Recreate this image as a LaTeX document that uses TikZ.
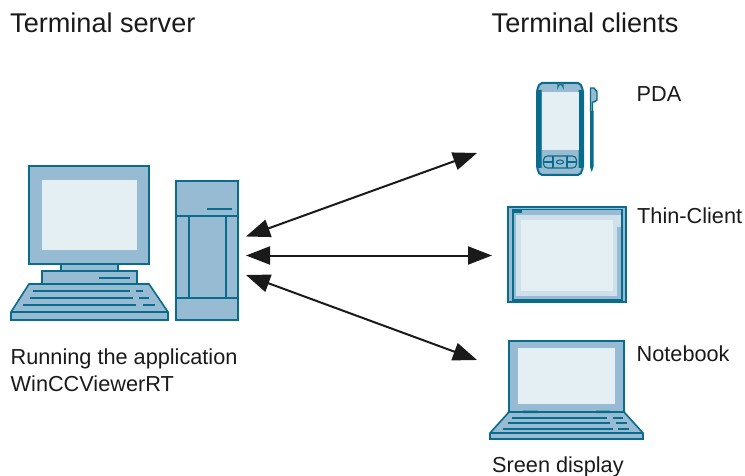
\documentclass[tikz,border=0pt]{standalone}
\usepackage{fontspec}
\setmainfont{Liberation Sans}
\usetikzlibrary{arrows.meta}
\definecolor{dk}{HTML}{0A6C8C}
\definecolor{md}{HTML}{96BBD2}
\definecolor{lt}{HTML}{E4EFF4}
\definecolor{pl}{HTML}{CFE0EA}
\definecolor{tx}{HTML}{1A1A1A}
\tikzset{
  x=1pt,y=-1pt,
  part/.style={draw=dk,fill=md,line width=1.6pt,line join=miter},
  scr/.style={fill=lt},
  thin/.style={draw=dk,line width=1.1pt},
  lab/.style={anchor=base west,inner sep=0pt,text=tx,font=\fontsize{21.7}{26}\selectfont},
  head/.style={anchor=base west,inner sep=0pt,text=tx,font=\fontsize{27.1}{32}\selectfont},
  link/.style={draw=tx,line width=2pt,{Triangle[length=24pt,width=18pt]}-{Triangle[length=24pt,width=18pt]}}
}
\begin{document}
\begin{tikzpicture}
\useasboundingbox (0,0) rectangle (745,476);
% desktop
\draw[part] (29,166) rectangle (149,264);
\fill[scr] (42,180) rectangle (137,250);
\draw[part] (61,264) rectangle (118,271);
\draw[part] (42,271) rectangle (137,284);
\draw[thin] (99,278) -- (130,278);
\draw[part] (29,284) -- (149,284) -- (168,312) -- (168,320) -- (11,320) -- (11,312) -- cycle;
\draw[thin] (11,312) -- (168,312);
\draw[thin] (33,291) -- (130,291) (136,291) -- (143,291);
\draw[thin] (30,298) -- (133,298) (139,298) -- (149,298);
\draw[thin] (23,305) -- (136,305) (143,305) -- (155,305);
% tower
\draw[part] (176,181) rectangle (238,320);
\draw[part] (176,216) -- (238,216) (176,298) -- (238,298) (189,216) -- (189,298) (226,216) -- (226,298);
\draw[dk,line width=1.6pt] (207,209) -- (232,209);
% PDA
\draw[part,line width=2pt,rounded corners=2pt] (540,83) -- (580,83) -- (583,90) -- (583,168) -- (580,175) -- (540,175) -- (537,168) -- (537,90) -- cycle;
\fill[dk] (537.5,90) rectangle (541.5,168) (578.5,90) rectangle (582.5,168);
\fill[scr] (542,92) rectangle (579,150);
\draw[thin,fill=lt] (558,84) -- (558,87) arc[start angle=180,end angle=0,x radius=2.5,y radius=-2.5] -- (563,84);
\draw[thin,rounded corners=4pt] (543.5,156) rectangle (576.5,168);
\draw[thin] (553,156) -- (553,168) (567,156) -- (567,168) (543.5,162) -- (553,162) (567,162) -- (576.5,162);
\draw[thin] (560,162) ellipse[x radius=3.5,y radius=2];
\draw[dk,fill=md,line width=1.4pt,line join=round] (590.5,88) -- (594,88) -- (597,92) -- (597,100) -- (594,102) -- (592.5,102) -- (592.5,112) -- (590.5,112) -- cycle;
\fill[dk] (590,111) -- (593.5,111) -- (593.5,167) -- (591.8,172) -- (590,167) -- cycle;
% thin client
\draw[draw=dk,fill=md,line width=2.4pt] (508,207) rectangle (626,302);
\draw[thin] (513,209.5) rectangle (622,300);
\fill[pl] (516,215) rectangle (617,296);
\fill[scr] (521,220) rectangle (613,291);
\fill[dk] (513,209) rectangle (522,213);
\fill[pl] (617,215) rectangle (621,227);
% notebook
\draw[part,line width=2pt] (509,341) rectangle (624,412);
\fill[scr] (518,348) rectangle (615,404);
\draw[part] (509,412) -- (624,412) -- (643,433) -- (643,439) -- (490,439) -- (490,433) -- cycle;
\draw[thin] (490,433) -- (643,433);
\fill[dk] (523,410.5) rectangle (538,413) (596,410.5) rectangle (610,413);
\draw[thin] (512,418) -- (607,418) (613,418) -- (623,418);
\draw[thin] (508,423) -- (610,423) (616,423) -- (627,423);
\draw[thin] (503,429) -- (613,429) (618,429) -- (629,429);
% labels
\node[head] (hs) at (10,33) {Terminal server};
\node[head] (hc) at (491.5,33) {Terminal clients};
\node[lab] (lp) at (636.5,102) {PDA};
\node[lab] (lt) at (637,224) {Thin-Client};
\node[lab] (ln) at (636.5,361) {Notebook};
\node[lab] (lr) at (10.5,364) {Running the application};
\node[lab] (lw) at (10.5,391) {WinCCViewerRT};
\node[lab] (ls) at (492,472) {Sreen display};
% connectors
\coordinate (s1) at (246,236.5);
\coordinate (s2) at (246,255.5);
\coordinate (s3) at (246,275);
\coordinate (c1) at (477,153);
\coordinate (c2) at (492,255.5);
\coordinate (c3) at (477,360);
\draw[link] (s1) -- (c1);
\draw[link] (s2) -- (c2);
\draw[link] (s3) -- (c3);
\end{tikzpicture}
\end{document}
